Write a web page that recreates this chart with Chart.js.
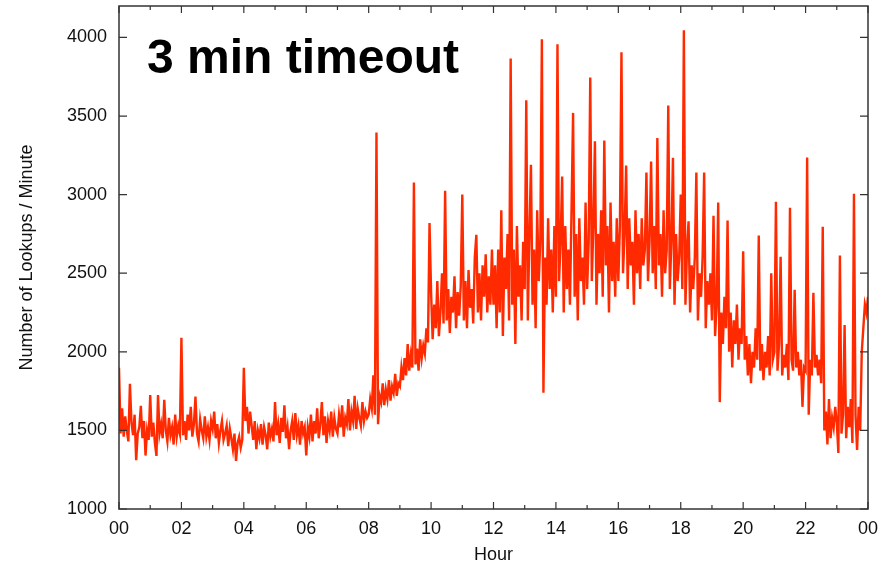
<!DOCTYPE html>
<html lang="en">
<head>
    <meta charset="UTF-8">
    <title>3 min timeout</title>
    <script src="https://cdn.jsdelivr.net/npm/chart.js@4.4.0/dist/chart.umd.min.js"></script>
    <style>
        html, body { margin: 0; padding: 0; background: #fff; }
        #wrap { width: 881px; height: 566px; }
    </style>
</head>
<body>
<div id="wrap"><canvas id="myChart" width="881" height="566"></canvas></div>
<script>
    // lookups per minute, one value every 3 minutes (20 per hour)
    var night = [   // 00:00 - 05:57
        1898, 1480, 1640, 1460, 1590, 1500, 1430, 1796, 1550, 1470, 1600, 1310, 1480, 1520, 1656, 1450, 1560, 1340, 1500, 1440,
        1725, 1460, 1550, 1420, 1338, 1725, 1480, 1540, 1450, 1695, 1500, 1430, 1580, 1470, 1520, 1410, 1600, 1460, 1530, 1480,
        2090, 1470, 1560, 1440, 1600, 1500, 1650, 1460, 1540, 1715, 1480, 1430, 1570, 1500, 1450, 1590, 1460, 1520, 1440, 1560,
        1510, 1620, 1450, 1540, 1420, 1500, 1560, 1440, 1480, 1530, 1400, 1510, 1450, 1380, 1480, 1306, 1420, 1460, 1390, 1440,
        1898, 1560, 1650, 1480, 1620, 1530, 1440, 1560, 1380, 1500, 1450, 1540, 1410, 1520, 1470, 1380, 1550, 1460, 1510, 1430,
        1680, 1470, 1540, 1420, 1580, 1490, 1660, 1450, 1520, 1380, 1500, 1560, 1440, 1610, 1470, 1530, 1410, 1560, 1480, 1520
    ];
    var morning = [ // 06:00 - 11:57
        1340, 1520, 1460, 1600, 1430, 1560, 1480, 1640, 1450, 1540, 1680, 1470, 1590, 1420, 1560, 1500, 1620, 1460, 1580, 1510,
        1480, 1600, 1520, 1660, 1460, 1580, 1540, 1700, 1500, 1620, 1560, 1720, 1510, 1640, 1580, 1530, 1680, 1560, 1620, 1580,
        1600, 1700, 1640, 1850, 1600, 3395, 1540, 1720, 1680, 1800, 1660, 1760, 1700, 1820, 1690, 1780, 1740, 1860, 1720, 1800,
        1780, 1900, 1820, 1960, 1850, 2050, 1880, 1980, 1900, 3077, 1920, 2020, 1880, 2080, 1960, 2040, 1990, 2150, 2060, 2820,
        2380, 2080, 2300, 2150, 2450, 2100, 2250, 2500, 2180, 3025, 2200, 2400, 2120, 2350, 2250, 2480, 2150, 2380, 2230, 2420,
        3000, 2200, 2450, 2150, 2520, 2280, 2400, 2180, 2600, 2745, 2250, 2500, 2200, 2550, 2350, 2620, 2250, 2480, 2300, 2650
    ];
    var afternoon = [ // 12:00 - 17:57
        2300, 2550, 2150, 2650, 2250, 2900, 2100, 2600, 2400, 2750, 2200, 3866, 2300, 2650, 2050, 2800, 2350, 2550, 2200, 2700,
        2400, 3600, 2200, 2750, 3190, 2300, 2650, 2150, 2900, 2450, 2700, 3988, 1740, 2600, 2300, 2850, 2400, 2650, 2250, 2800,
        2350, 3956, 2450, 2700, 3115, 2250, 2800, 2400, 2650, 2300, 2900, 3520, 2350, 2750, 2200, 2850, 2450, 2600, 2300, 2950,
        2400, 2700, 3745, 2450, 2800, 3340, 2300, 2750, 2500, 2900, 2350, 3345, 2550, 2800, 2250, 2950, 2450, 2700, 2350, 2850,
        2450, 2800, 3905, 2500, 2750, 3185, 2400, 2850, 2550, 2700, 2300, 2900, 2500, 2750, 2400, 2850, 2550, 2650, 3140, 2450,
        2700, 3210, 2500, 2800, 2400, 3360, 2550, 2750, 2350, 2900, 2500, 2650, 3567, 2400, 2700, 3235, 2300, 2750, 2450, 2600
    ];
    var evening = [ // 18:00 - 24:00
        3000, 2400, 4045, 2300, 2650, 2830, 2250, 2550, 2400, 2600, 3140, 2200, 2500, 2350, 2600, 3140, 2150, 2450, 2300, 2500,
        2200, 2865, 2100, 2300, 2950, 1680, 2250, 2050, 2350, 2150, 2835, 2000, 2250, 1900, 2200, 2050, 2300, 1950, 2150, 2050,
        2640, 1950, 2100, 1850, 2050, 1800, 2000, 1900, 2150, 1950, 2740, 1880, 2050, 1820, 2000, 1900, 2100, 1850, 2500, 1950,
        2000, 2955, 1880, 2050, 2605, 1850, 1980, 1900, 2050, 1820, 2917, 1950, 1880, 2395, 1900, 2000, 1850, 1950, 1650, 1900,
        1880, 3236, 1600, 1950, 1850, 2376, 1900, 1980, 1850, 1950, 1800, 2796, 1500, 1620, 1410, 1700, 1450, 1580, 1520, 1650,
        1550, 1357, 2612, 1480, 1600, 2170, 1450, 1650, 1520, 1700, 1420, 3006, 1600, 1375, 1650, 1500, 2000, 2150, 2300, 2250,
        2350
    ];
    var hourTicks = [0, 2, 4, 6, 8, 10, 12, 14, 16, 18, 20, 22, 24];
    var yTicks = [1000, 1500, 2000, 2500, 3000, 3500, 4000];

    var lookups = night.concat(morning, afternoon, evening);
    var points = lookups.map(function(v, i){ return {x: i * 3 / 60, y: v}; });

    var font = '"Liberation Sans", Arial, Helvetica, sans-serif';

    // frame with inward ticks on all four sides, plus the big label
    var framePlugin = {
        id: 'frame',
        afterDraw: function(chart){
            var ctx = chart.ctx, a = chart.chartArea;
            var xs = chart.scales.x, ys = chart.scales.y;
            ctx.save();
            ctx.strokeStyle = '#333';
            ctx.lineWidth = 1.5;
            ctx.strokeRect(a.left, a.top, a.right - a.left, a.bottom - a.top);
            ctx.lineWidth = 1.2;
            ctx.beginPath();
            for (var h = 0; h <= 24; h++) {
                var px = xs.getPixelForValue(h);
                var len = (h % 2 === 0) ? 7 : 4;
                ctx.moveTo(px, a.bottom); ctx.lineTo(px, a.bottom - len);
                ctx.moveTo(px, a.top); ctx.lineTo(px, a.top + len);
            }
            yTicks.forEach(function(v){
                var py = ys.getPixelForValue(v);
                ctx.moveTo(a.left, py); ctx.lineTo(a.left + 8, py);
                ctx.moveTo(a.right, py); ctx.lineTo(a.right - 8, py);
            });
            ctx.stroke();

            ctx.fillStyle = '#000';
            ctx.font = 'bold 48px ' + font;
            ctx.textBaseline = 'alphabetic';
            ctx.textAlign = 'left';
            ctx.fillText('3 min timeout', 147, 73);
            ctx.restore();
        }
    };

    var chartArea = document.getElementById('myChart').getContext('2d');
    var myChart = new Chart(chartArea, {
        type: 'line',
        data: {
            datasets: [{
                label: 'lookups',
                data: points,
                borderColor: '#ff2a00',
                borderWidth: 2.4,
                pointRadius: 0,
                tension: 0,
                fill: false
            }]
        },
        options: {
            responsive: false,
            animation: false,
            events: [],
            layout: { padding: { top: 6, right: 13, bottom: 0, left: 0 } },
            plugins: { legend: { display: false }, tooltip: { enabled: false } },
            scales: {
                x: {
                    type: 'linear',
                    min: 0,
                    max: 24,
                    afterBuildTicks: function(s){ s.ticks = hourTicks.map(function(v){ return {value: v}; }); },
                    afterFit: function(s){ s.height = 57; s.paddingLeft = 0; s.paddingRight = 0; },
                    grid: { display: false, drawTicks: false },
                    border: { display: false },
                    ticks: {
                        autoSkip: false,
                        maxRotation: 0,
                        padding: 9,
                        color: '#111',
                        font: { family: font, size: 18 },
                        callback: function(v){ return String(v % 24).padStart(2, '0'); }
                    },
                    title: {
                        display: true,
                        text: 'Hour',
                        color: '#111',
                        font: { family: font, size: 18 },
                        padding: { top: 0, bottom: 0 }
                    }
                },
                y: {
                    min: 1000,
                    max: 4200,
                    afterBuildTicks: function(s){ s.ticks = yTicks.map(function(v){ return {value: v}; }); },
                    afterFit: function(s){ s.width = 119; s.paddingTop = 0; s.paddingBottom = 0; },
                    grid: { display: false, drawTicks: false },
                    border: { display: false },
                    ticks: {
                        padding: 12,
                        color: '#111',
                        font: { family: font, size: 18 },
                        callback: function(v){ return String(v); }
                    },
                    title: {
                        display: true,
                        text: 'Number of Lookups / Minute',
                        color: '#111',
                        font: { family: font, size: 18 },
                        padding: { top: 16, bottom: 0 }
                    }
                }
            }
        },
        plugins: [framePlugin]
    });
</script>
</body>
</html>
